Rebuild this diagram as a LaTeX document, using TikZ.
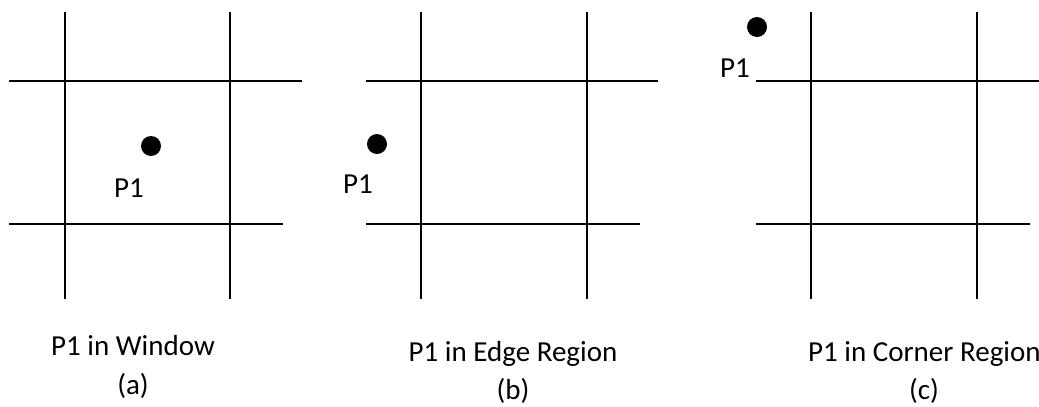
\documentclass[tikz,border=0pt]{standalone}
\usepackage{fontspec}
\setmainfont{Carlito}
\usetikzlibrary{positioning}

\begin{document}
\begin{tikzpicture}[
    x=1pt, y=-1pt,
    every node/.style={font=\fontsize{29}{34}\selectfont, text=black},
    grid/.style={line width=2pt, draw=black},
    pt/.style={circle, fill=black, inner sep=0pt, minimum size=20pt},
    lbl/.style={inner sep=0pt, anchor=center},
]
\useasboundingbox (0,0) rectangle (1039,407);

% Panel (a): point inside the window
\draw[grid] (65,12) -- (65,299);
\draw[grid] (230,12) -- (230,299);
\draw[grid] (9,81) -- (302,81);
\draw[grid] (9,224) -- (283,224);
\node[pt] (dotA) at (151,146) {};
\node[lbl] (pA) at (129,188) {P1};

% Panel (b): point in the edge region
\draw[grid] (421,12) -- (421,299);
\draw[grid] (587,12) -- (587,299);
\draw[grid] (366,81) -- (658,81);
\draw[grid] (366,224) -- (640,224);
\node[pt] (dotB) at (377,144) {};
\node[lbl] (pB) at (358,184) {P1};

% Panel (c): point in the corner region
\draw[grid] (811,12) -- (811,299);
\draw[grid] (977,12) -- (977,299);
\draw[grid] (756,81) -- (1039,81);
\draw[grid] (756,224) -- (1030,224);
\node[pt] (dotC) at (757,27) {};
\node[lbl] (pC) at (735,68) {P1};

% Captions
\node[lbl] (capA) at (133,346) {P1 in Window};
\node[lbl] (subA) at (133,386) {(a)};
\node[lbl] (capB) at (513,354) {P1 in Edge Region};
\node[lbl] (subB) at (513,391) {(b)};
\node[lbl, anchor=west] (capC) at (808,354) {P1 in Corner Region};
\node[lbl] (subC) at (924,391) {(c)};

\end{tikzpicture}
\end{document}
